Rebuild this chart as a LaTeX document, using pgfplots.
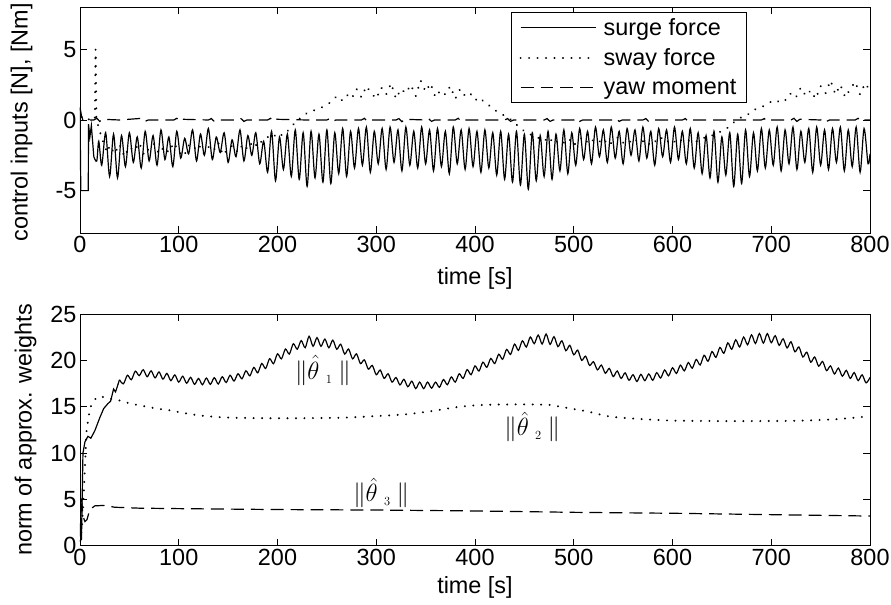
\RequirePackage{fix-cm}
\documentclass[border=0pt]{standalone}
\usepackage{fontspec}
\setmainfont{Liberation Sans}
\usepackage{pgfplots}
\pgfplotsset{compat=1.18}

\pgfplotsset{
 mlab/.style={
  scale only axis,width=790bp,
  xmin=0,xmax=800,xtick={0,100,...,800},
  xlabel={time [s]},
  tick align=inside,major tick length=7bp,
  axis line style={line width=0.8pt},
  every tick/.style={black,line width=0.8pt},
  /pgf/number format/assume math mode=true,
  tick label style={font=\fontsize{23.5}{27}\selectfont},
  label style={font=\fontsize{23.5}{27}\selectfont},
  clip=true,
 },
 solidl/.style={black,line width=1.2pt},
 dotl/.style={black,line width=2.2pt,line cap=round,dash pattern=on 0.01pt off 8.5pt},
 dashl/.style={black,line width=1.2pt,dash pattern=on 13pt off 7pt},
}
\tikzset{thlab/.style={font=\fontsize{25}{30}\selectfont}}
\newcommand\thnorm[1]{$\|\hat{\theta}_{\hspace{7pt}\scriptscriptstyle #1}\hspace{6pt}\|$}

\begin{document}
\begin{tikzpicture}
\path[use as bounding box] (-80bp,-372bp) rectangle (811bp,233bp);

% control inputs
\begin{axis}[mlab,height=226bp,at={(0,0)},anchor=south west,
 ymin=-8,ymax=8,ytick={-5,0,5},
 ylabel={control inputs [N], [Nm]},
 ylabel style={at={(axis description cs:-0.074,0.49)},anchor=center},
 xlabel style={at={(axis description cs:0.5,-0.203)},anchor=center},
 legend style={at={(0.844,0.977)},anchor=north east,draw=black,line width=0.8pt,
  font=\fontsize{23.5}{27}\selectfont,cells={anchor=west},inner xsep=8pt,inner ysep=4pt,
  row sep=8pt,column sep=5bp},
 legend image code/.code={\draw[#1] (0bp,0bp) -- (75bp,0bp);},
]
\addplot[solidl,forget plot] coordinates {
(0,0.9) (0.8,-5) (8.4,-5) (8.6,-0.3) (10,-1.2) (11.5,-0.4) (14,-2.6)
};
\addplot[solidl,smooth,tension=0.5] coordinates {
(14,-2.6) (17,-2.9) (19,-1.5) (22,-3.2)
(26,-0.9) (30,-4.0) (34,-1.0) (38,-4.1) (42,-1.1) (46,-3.3) (50,-0.9) (54,-3.0) (58,-1.2) (62,-3.4)
(66,-0.8) (70,-2.9) (74,-1.1) (78,-3.2) (82,-0.7) (86,-2.8) (90,-1.2) (94,-3.3) (98,-0.8) (102,-2.7)
(106,-1.3) (110,-2.4) (114,-0.7) (118,-2.9) (122,-1.0) (126,-2.5) (130,-0.6) (134,-2.8) (138,-1.2) (142,-2.3)
(146,-0.9) (150,-3.0) (154,-1.4) (158,-2.6) (162,-0.7) (166,-2.9) (170,-1.1) (174,-2.5) (178,-0.9) (182,-3.1)
(186,-1.5) (190,-3.7) (194,-0.8) (198,-4.3) (202,-1.2) (206,-3.5) (210,-1.0) (214,-4.0) (218,-0.7) (222,-4.2)
(226,-0.9) (230,-4.7) (234,-0.8) (238,-4.1) (242,-1.0) (246,-4.4) (250,-0.7) (254,-4.5) (258,-0.9) (262,-3.8)
(266,-0.6) (270,-4.0) (274,-0.8) (278,-3.4) (282,-0.6) (286,-3.2) (290,-0.5) (294,-3.7) (298,-0.8) (302,-3.1)
(306,-0.6) (310,-3.5) (314,-0.5) (318,-3.0) (322,-0.7) (326,-3.6) (330,-0.5) (334,-3.2) (338,-0.8) (342,-3.4)
(346,-0.5) (350,-3.1) (354,-0.7) (358,-3.6) (362,-0.6) (366,-3.3) (370,-0.8) (374,-3.8) (378,-0.5) (382,-3.1)
(386,-0.7) (390,-3.5) (394,-0.6) (398,-3.3) (402,-0.8) (406,-3.7) (410,-0.7) (414,-3.4) (418,-0.9) (422,-3.9)
(426,-0.8) (430,-4.2) (434,-1.0) (438,-4.4) (442,-0.8) (446,-4.6) (450,-1.0) (454,-4.9) (458,-0.9) (462,-4.3)
(466,-1.1) (470,-4.0) (474,-0.8) (478,-4.2) (482,-1.0) (486,-3.6) (490,-0.7) (494,-3.8) (498,-0.9) (502,-3.2)
(506,-0.6) (510,-2.8) (514,-0.8) (518,-3.1) (522,-0.5) (526,-2.6) (530,-0.7) (534,-3.0) (538,-0.5) (542,-2.7)
(546,-0.8) (550,-3.1) (554,-0.6) (558,-2.5) (562,-0.7) (566,-2.9) (570,-0.5) (574,-2.7) (578,-0.8) (582,-3.2)
(586,-0.6) (590,-2.6) (594,-0.7) (598,-3.0) (602,-0.5) (606,-2.8) (610,-0.8) (614,-3.1) (618,-0.6) (622,-3.4)
(626,-0.9) (630,-3.8) (634,-1.1) (638,-4.1) (642,-0.8) (646,-4.4) (650,-1.2) (654,-3.9) (658,-0.9) (662,-4.7)
(666,-1.0) (670,-4.5) (674,-0.7) (678,-4.0) (682,-0.9) (686,-3.6) (690,-0.6) (694,-3.4) (698,-0.7) (702,-3.2)
(706,-0.5) (710,-3.6) (714,-0.7) (718,-3.1) (722,-0.5) (726,-3.5) (730,-0.8) (734,-3.0) (738,-0.6) (742,-3.7)
(746,-0.5) (750,-3.2) (754,-0.7) (758,-3.5) (762,-0.6) (766,-3.0) (770,-0.5) (774,-3.6) (778,-0.7) (782,-3.3)
(786,-0.5) (790,-3.7) (794,-0.6) (798,-3.1) (800,-2.4)
};
\addlegendentry{surge force}
\addplot[dotl] coordinates {
(0,0.8) (2,0.1) (15,0.0) (15.8,5.0) (16.6,0.2) (19,-0.6) (22,-1.2) (25,-1.9) (28,-2.3)
(30,-1.8) (35,-2.4) (40,-1.7) (45,-2.6) (50,-1.9) (55,-2.2) (60,-1.6) (65,-2.5) (70,-2.0) (75,-1.7)
(80,-2.4) (85,-1.9) (90,-2.3) (95,-1.6) (100,-2.2) (105,-2.6) (110,-1.8) (115,-2.1) (120,-1.7) (125,-2.4)
(130,-1.9) (135,-2.2) (140,-1.6) (145,-2.5) (150,-2.0) (155,-1.8) (160,-2.3) (165,-1.7) (170,-2.1) (175,-1.5)
(180,-1.9) (185,-1.4) (190,-1.2) (195,-1.3) (200,-0.9) (205,-1.1) (210,-0.8) (215,-0.4) (220,0.0) (225,0.2)
(230,0.5) (235,0.6) (240,0.8) (245,0.9) (250,1.1) (255,1.3) (260,1.7) (265,1.4) (270,1.8) (275,1.5)
(280,2.2) (285,1.6) (290,2.4) (295,1.9) (300,1.5) (305,2.3) (310,1.8) (315,2.6) (320,1.5) (325,2.2)
(330,1.9) (335,2.5) (340,1.7) (345,2.8) (350,2.0) (355,2.6) (360,1.6) (365,2.1) (370,1.8) (375,2.4)
(380,1.5) (385,2.2) (390,1.7) (395,1.9) (400,1.4) (405,1.6) (410,1.2) (415,1.0) (420,0.7) (425,0.5)
(430,0.3) (435,0.1) (440,-0.2) (445,-0.5) (450,-0.8) (455,-1.0) (460,-1.1) (465,-1.3) (470,-1.5) (475,-1.2)
(480,-1.7) (485,-1.4) (490,-1.6) (495,-1.3) (500,-1.8) (505,-1.4) (510,-1.2) (515,-1.7) (520,-1.4) (525,-1.6)
(530,-1.3) (535,-1.8) (540,-1.5) (545,-1.2) (550,-1.6) (555,-1.4) (560,-1.7) (565,-1.3) (570,-1.5) (575,-1.8)
(580,-1.4) (585,-1.6) (590,-1.2) (595,-1.5) (600,-1.7) (605,-1.3) (610,-1.5) (615,-1.4) (620,-1.6) (625,-1.5)
(630,-1.3) (635,-1.2) (640,-1.1) (645,-0.9) (650,-0.8) (655,-0.6) (660,-0.3) (665,0.0) (670,0.2) (675,0.3)
(680,0.6) (685,0.8) (690,0.9) (695,1.1) (700,1.3) (705,1.2) (710,1.5) (715,1.4) (720,1.9) (725,1.6)
(730,2.3) (735,1.7) (740,2.1) (745,1.5) (750,2.4) (755,1.9) (760,2.8) (765,1.8) (770,2.5) (775,1.6)
(780,2.2) (785,2.7) (790,1.8) (795,2.6) (800,2.1)
};
\addlegendentry{sway force}
\addplot[dashl] coordinates {
(0,0.9) (1.5,0.3) (3,0) (14,0) (17,0.12) (20,-0.1) (23,0.05) (40,0) (63,0.12) (66,-0.1) (69,0)
(95,0) (98,0.12) (101,-0.1) (104,0.05) (130,0) (133,0.1) (136,-0.1) (139,0) (160,0) (163,0.1) (166,-0.1)
(169,0) (190,0) (193,0.12) (196,-0.1) (199,0.05) (230,0) (250,0) (253,0.1) (256,-0.1) (259,0) (285,0)
(288,0.12) (291,-0.1) (294,0) (320,0) (323,0.1) (326,-0.12) (329,0.05) (350,0) (353,0.1) (356,-0.1)
(359,0) (380,0) (383,0.12) (386,-0.1) (389,0) (430,0) (433,0.1) (436,-0.1) (439,0) (470,0) (473,0.1)
(476,-0.1) (479,0) (500,0) (503,0.12) (506,-0.1) (509,0) (540,0) (543,0.1) (546,-0.1) (549,0) (570,0)
(573,0.1) (576,-0.12) (579,0) (610,0) (613,0.1) (616,-0.1) (619,0) (650,0) (690,0) (693,0.1) (696,-0.1)
(699,0) (720,0) (723,0.12) (726,-0.1) (729,0.05) (750,0) (753,0.1) (756,-0.1) (759,0) (785,0)
(788,0.12) (791,-0.1) (794,0) (800,0)
};
\addlegendentry{yaw moment}
\end{axis}

% approximation weights
\begin{axis}[mlab,height=231.7bp,at={(0,-312.7bp)},anchor=south west,
 ymin=0,ymax=25,ytick={0,5,...,25},
 ylabel={norm of approx. weights},
 ylabel style={at={(axis description cs:-0.069,0.5)},anchor=center},
 xlabel style={at={(axis description cs:0.5,-0.178)},anchor=center},
]
\addplot[solidl] coordinates {
(0,0.5) (1.5,0.7) (3,10) (5,11.2) (8,11.8) (11,11.6) (15,12.4) (20,13.8) (24,14.8) (28,15.3)
(31,15.6) (34,16.9) (36,16.6) (40,17.9)
};
\addplot[solidl,smooth,tension=0.5] coordinates {
(40,17.9) (44,17.47) (48,18.39) (52,17.91) (56,18.83) (60,18.35) (64,18.99) (68,18.23) (72,18.87) (76,18.11)
(80,18.75) (84,17.97) (88,18.59) (92,17.81) (96,18.43) (100,17.65) (104,18.29) (108,17.53) (112,18.17) (116,17.41)
(120,18.05) (124,17.37) (128,18.09) (132,17.41) (136,18.13) (140,17.45) (144,18.23) (148,17.61) (152,18.39) (156,17.77)
(160,18.55) (164,18.01) (168,18.87) (172,18.33) (176,19.24) (180,18.65) (184,19.66) (188,19.12) (192,20.18) (196,19.64)
(200,20.7) (204,20.16) (208,21.22) (212,20.68) (216,21.79) (220,21.2) (224,22.13) (228,21.36) (232,22.6) (236,21.52)
(240,22.45) (244,21.52) (248,22.29) (252,21.36) (256,22.18) (260,21.2) (264,21.74) (268,20.68) (272,21.22) (276,20.16)
(280,20.7) (284,19.65) (288,20.05) (292,19.05) (296,19.45) (300,18.45) (304,18.95) (308,18.05) (312,18.55) (316,17.65)
(320,18.15) (324,17.35) (328,17.95) (332,17.15) (336,17.75) (340,16.95) (344,17.65) (348,16.95) (352,17.65) (356,17.0)
(360,17.65) (364,17.09) (368,17.93) (372,17.37) (376,18.21) (380,17.65) (384,18.55) (388,18.05) (392,19.0) (396,18.45)
(400,19.4) (404,18.85) (408,19.8) (412,19.25) (416,20.2) (420,19.65) (424,20.66) (428,20.12) (432,21.18) (436,20.64)
(440,21.75) (444,21.08) (448,22.11) (452,21.44) (456,22.52) (460,21.8) (464,22.73) (468,21.76) (472,22.84) (476,21.72)
(480,22.55) (484,21.48) (488,22.11) (492,21.04) (496,21.62) (500,20.6) (504,21.1) (508,20.0) (512,20.45) (516,19.45)
(520,19.85) (524,18.97) (528,19.49) (532,18.61) (536,19.13) (540,18.25) (544,18.85) (548,18.05) (552,18.65) (556,17.85)
(560,18.45) (564,17.72) (568,18.49) (572,17.81) (576,18.53) (580,17.85) (584,18.67) (588,18.09) (592,18.96) (596,18.33)
(600,19.2) (604,18.59) (608,19.48) (612,18.87) (616,19.76) (620,19.15) (624,20.1) (628,19.5) (632,20.55) (636,19.9)
(640,20.95) (644,20.32) (648,21.39) (652,20.76) (656,21.88) (660,21.2) (664,22.22) (668,21.44) (672,22.51) (676,21.68)
(680,22.75) (684,21.82) (688,22.89) (692,21.86) (696,22.88) (700,21.9) (704,22.66) (708,21.62) (712,22.33) (716,21.34)
(720,22.0) (724,20.92) (728,21.44) (732,20.36) (736,20.88) (740,19.8) (744,20.36) (748,19.37) (752,19.88) (756,18.89)
(760,19.4) (764,18.53) (768,19.16) (772,18.29) (776,18.92) (780,18.05) (784,18.68) (788,17.81) (792,18.44) (796,17.57)
(800,18.15)
};
\addplot[dotl,smooth] coordinates {
(0,0.5) (1.7,1.7) (3.5,5) (5,8.5) (6.7,12.5) (8.4,13.5) (10,14.8) (13.5,15.5) (18.6,16.1) (28.7,15.9)
(38.8,15.7) (48.9,15.4) (57.4,15.2) (67.5,15.0) (77.6,14.8) (91,14.6) (106,14.3) (118,14.1) (131,13.95)
(145,13.85) (160,13.8) (200,13.75) (260,13.8) (294,13.95) (327,14.15) (344,14.35) (361,14.6) (378,14.9)
(395,15.1) (412,15.2) (440,15.25) (475,15.2) (486,15.0) (513,14.5) (536,13.95) (563,13.7) (600,13.5)
(650,13.45) (700,13.45) (732,13.5) (766,13.65) (793,13.9) (800,14.0)
};
\addplot[dashl] coordinates {
(0,1.0) (1.5,5.2) (3,3.2) (5,2.6) (7,2.8) (10,3.9) (15,4.3) (25,4.35) (35,4.15) (60,4.05) (100,4.0)
(200,3.9) (300,3.85) (400,3.75) (500,3.6) (600,3.5) (700,3.35) (800,3.2)
};
\node[thlab] at (axis cs:246,18.9) {\thnorm{1}};
\node[thlab] at (axis cs:458,12.8) {\thnorm{2}};
\node[thlab] at (axis cs:305,5.7) {\thnorm{3}};
\end{axis}
\end{tikzpicture}
\end{document}
